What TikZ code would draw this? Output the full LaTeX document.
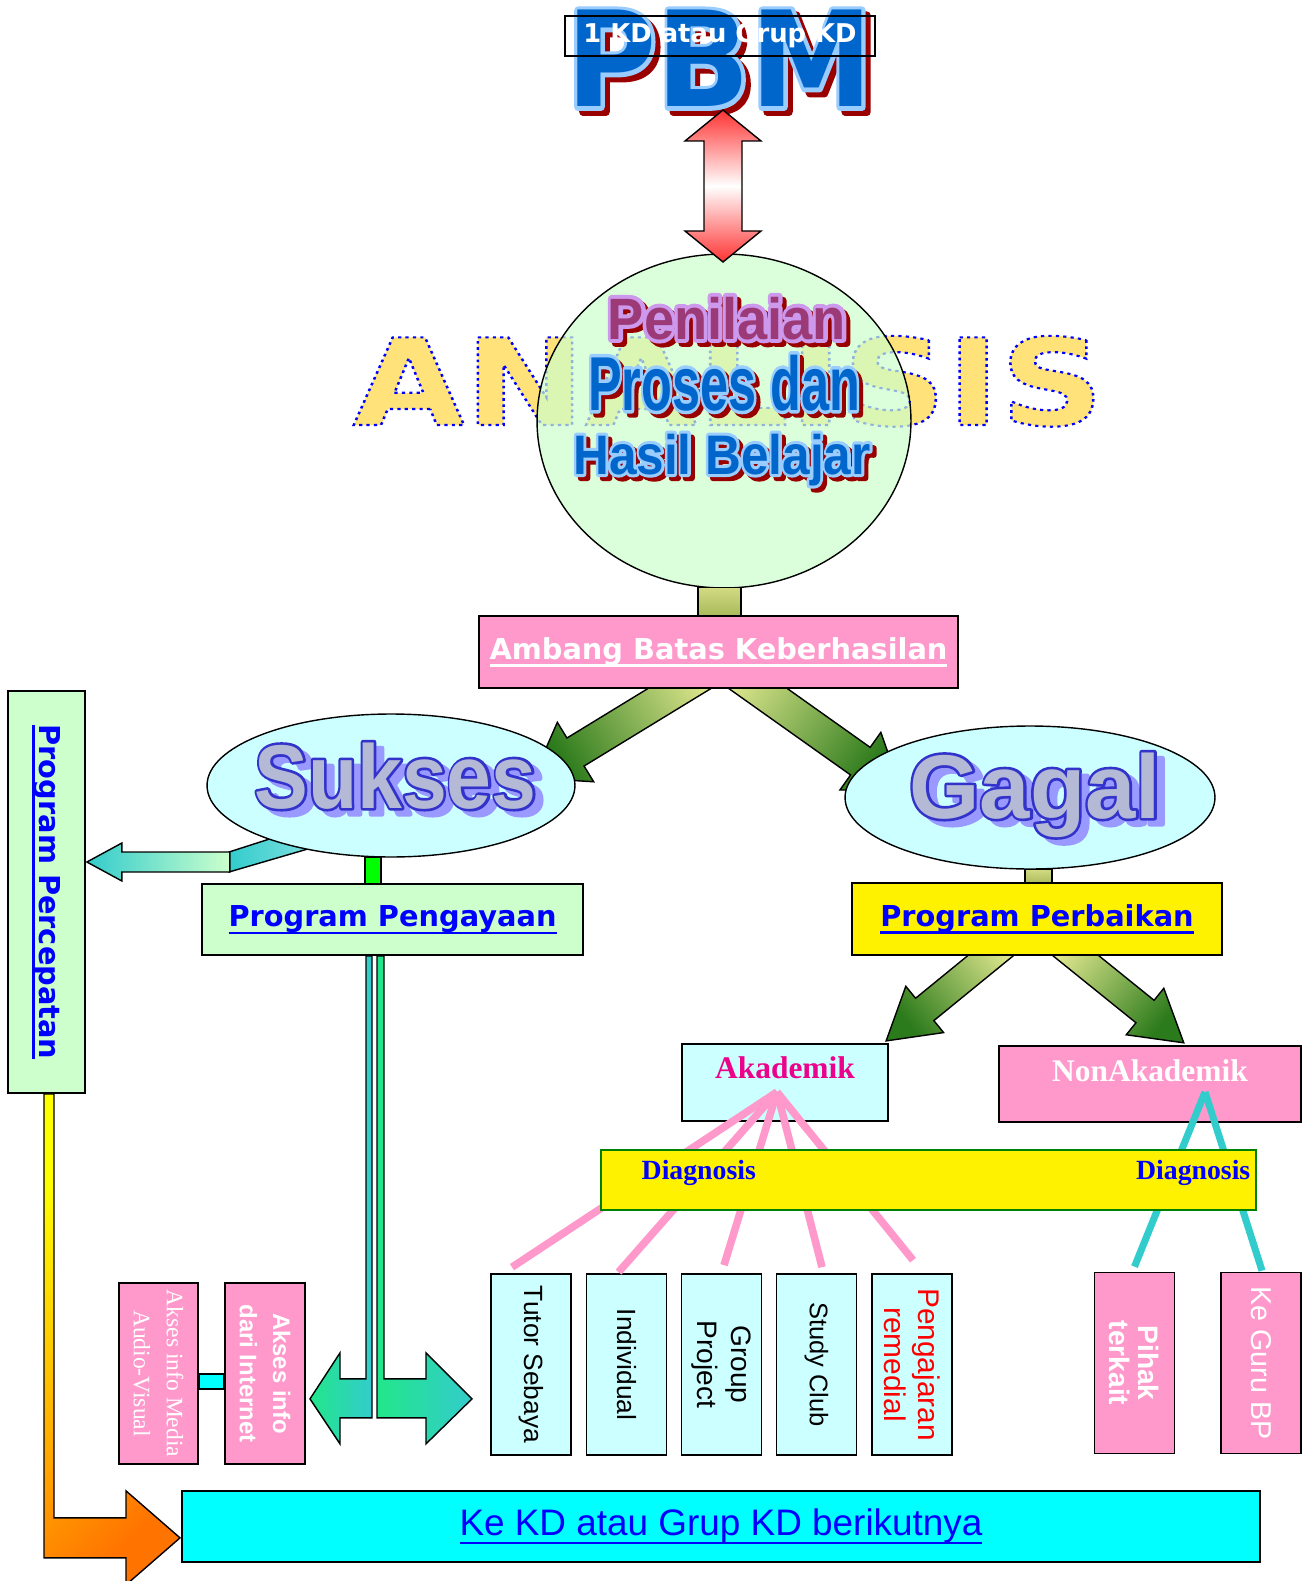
\documentclass[tikz,border=0pt]{standalone}
\usepackage{fontspec}
\setmainfont{Liberation Sans}
\newfontfamily\verd{DejaVu Sans}
\newfontfamily\tms{Liberation Serif}
\usetikzlibrary{calc,shapes.geometric}

\definecolor{pinkbox}{HTML}{FF99CC}
\definecolor{mint}{HTML}{CCFFCC}
\definecolor{ice}{HTML}{CCFFFF}
\definecolor{aqua}{HTML}{00FFFF}
\definecolor{linkblue}{HTML}{0000FF}
\definecolor{pbmblue}{HTML}{0066CC}
\definecolor{skyline}{HTML}{99CCFF}
\definecolor{shadowred}{HTML}{990000}
\definecolor{plum}{HTML}{9C3A78}
\definecolor{lavender}{HTML}{CC99EE}
\definecolor{sandy}{HTML}{FFE27A}
\definecolor{slate}{HTML}{B4BAD6}
\definecolor{lilac}{HTML}{9999FF}
\definecolor{inkblue}{HTML}{3333CC}
\definecolor{oliveA}{HTML}{D2DA82}
\definecolor{oliveB}{HTML}{A6B858}
\definecolor{paleyel}{HTML}{F2F29A}
\definecolor{leaf}{HTML}{2B7A1B}
\definecolor{aquateal}{HTML}{33CCCC}
\definecolor{springgreen}{HTML}{22E68A}

\newcommand\fs[2]{\fontsize{#1}{#2}\selectfont}
% underlined link text
\newcommand\ul[2][-4.3pt]{\setbox0\hbox{#2}\leavevmode\rlap{\rule[#1]{\wd0}{1.3pt}}\box0}
% thickened text (fill + stroke): stroke colour (rgb), stroke width, text
\newcommand\fat[3]{\special{pdf:literal #1 RG #2 w 1 j 2 Tr}#3\special{pdf:literal 0 Tr}}
\newcommand\dotl[3]{\special{pdf:literal #1 RG #2 w [1.5 2] 0 d 2 Tr}#3\special{pdf:literal 0 Tr [] 0 d}}

% fat arrow from #1 to #2: shaft half, head half, head length (px), style
\newcommand\blockarrow[6]{%
  \path let \p1=#1, \p2=#2 in \pgfextra{%
    \pgfmathsetmacro\baang{atan2(\y2-\y1,\x2-\x1)}%
    \pgfmathsetmacro\balen{veclen(\x2-\x1,\y2-\y1)}%
    \xdef\baang{\baang}\xdef\balen{\balen}};
  \pgfmathsetmacro\bashade{\baang+90}%
  \pgfmathsetmacro\bas{#3*0.5669}%
  \pgfmathsetmacro\bah{#4*0.5669}%
  \pgfmathsetmacro\babase{\balen-#5*0.5669}%
  \shade[#6, shading angle=\bashade, shift={#1}, rotate=\baang]
    (0pt,\bas pt) -- (\babase pt,\bas pt) -- (\babase pt,\bah pt) -- (\balen pt,0pt)
    -- (\babase pt,-\bah pt) -- (\babase pt,-\bas pt) -- (0pt,-\bas pt) -- cycle;
}

\begin{document}
\begin{tikzpicture}[x=0.02cm, y=-0.02cm,
  box/.style={draw, line width=1pt, inner sep=0pt, align=center},
  vbox/.style={box, rotate=-90, minimum width=3.62cm, minimum height=1.6cm, font=\fs{15}{19.3}},
  art/.style={inner sep=0pt, anchor=base},
  stem/.style={draw, line width=0.8pt},
  blob/.style={ellipse, draw, line width=0.8pt},
  leafarrow/.style={draw, line width=0.8pt, top color=paleyel, bottom color=leaf},
  fan/.style={draw=pinkbox, line width=4.3pt},
  fanteal/.style={draw=aquateal, line width=4pt}]

\path[use as bounding box, fill=white] (0,0) rectangle (1309,1581);

% ANALISIS and the ellipse over it
\node[art, text=sandy, xscale=1.2, font=\verd\bfseries\fs{68.4}{68.4}] (analisis) at (728.5,425) {\dotl{0 0 1}{1.2}{ANALISIS}};
\node[blob, fill=mint, fill opacity=.7, minimum width=7.48cm, minimum height=6.68cm] (penil) at (724,421) {};

\node[art, text=shadowred, xscale=.93, font=\bfseries\fs{33.2}{33.2}] (penil-s1) at (731,343) {\fat{0.6 0 0}{4.5}{Penilaian}};
\node[art, text=lavender, xscale=.93, font=\bfseries\fs{33.2}{33.2}] (penil-o1) at (727,339) {\fat{0.8 0.6 0.93}{4.5}{Penilaian}};
\node[art, text=plum, xscale=.93, font=\bfseries\fs{33.2}{33.2}] (penil-t1) at (727,339) {Penilaian};
\node[art, text=shadowred, xscale=.66, font=\bfseries\fs{43.5}{43.5}] (penil-s2) at (728,414) {\fat{0.6 0 0}{4}{Proses dan}};
\node[art, text=skyline, xscale=.66, font=\bfseries\fs{43.5}{43.5}] (penil-o2) at (724,410) {\fat{0.6 0.8 1}{4}{Proses dan}};
\node[art, text=pbmblue, xscale=.66, font=\bfseries\fs{43.5}{43.5}] (penil-t2) at (724,410) {Proses dan};
\node[art, text=shadowred, xscale=.89, font=\bfseries\fs{31.7}{31.7}] (penil-s3) at (726,478) {\fat{0.6 0 0}{3.5}{Hasil Belajar}};
\node[art, text=skyline, xscale=.89, font=\bfseries\fs{31.7}{31.7}] (penil-o3) at (722,474) {\fat{0.6 0.8 1}{3.5}{Hasil Belajar}};
\node[art, text=pbmblue, xscale=.89, font=\bfseries\fs{31.7}{31.7}] (penil-t3) at (722,474) {Hasil Belajar};

% PBM
\node[art, text=shadowred, xscale=.93, font=\verd\bfseries\fs{75.4}{75.4}] (pbm-s) at (725,112) {\fat{0.6 0 0}{4.5}{PBM}};
\node[art, text=skyline, xscale=.93, font=\verd\bfseries\fs{75.4}{75.4}] (pbm-o) at (720,107) {\fat{0.6 0.8 1}{4.5}{PBM}};
\node[art, text=pbmblue, xscale=.93, font=\verd\bfseries\fs{75.4}{75.4}] (pbm) at (720,107) {PBM};
\node[box, minimum width=6.2cm, minimum height=0.8cm, text=white, font=\verd\bfseries\fs{14.7}{14.7}] (kd) at (720,36) {1 KD atau Grup KD};

\coordinate (pbmfoot) at (723,110);
\coordinate (penitop) at (723,262);
\shade[draw, line width=0.8pt, top color=red!80, bottom color=red!80, middle color=white]
  (pbmfoot) -- ++(38,31) -- ++(-19,0) -- ++(0,90) -- ++(19,0) -- (penitop)
  -- ++(-38,-31) -- ++(19,0) -- ++(0,-90) -- ++(-19,0) -- cycle;

\draw[stem, top color=oliveA, bottom color=oliveB] ($(penil.south)+(-26,-1)$) rectangle ($(penil.south)+(17,29)$);

% Ambang to Sukses / Gagal
\coordinate (ambl) at (731,657);
\coordinate (sukin) at (533,778);
\coordinate (ambr) at (708,653);
\coordinate (gagin) at (901,790);
\blockarrow{(ambl)}{(sukin)}{16.5}{35}{50}{leafarrow}
\blockarrow{(ambr)}{(gagin)}{17}{35.5}{50}{leafarrow}
\node[box, fill=pinkbox, minimum width=9.58cm, minimum height=1.44cm, text=white, font=\verd\bfseries\fs{16.4}{16.4}] (amb) at (718.5,652) {\ul{Ambang Batas Keberhasilan}};

% Program Percepatan and the arrow from Sukses
\node[box, rotate=-90, fill=mint, minimum width=8.04cm, minimum height=1.54cm, text=linkblue, font=\verd\bfseries\fs{16.4}{16.4}] (perc) at (46.5,892) {\ul{Program Percepatan}};
\shade[draw, line width=0.8pt, left color=aquateal, right color=aquateal!60!white] (229,852) -- (310,826) -- (318,846) -- (229,872) -- cycle;
\coordinate (perctip) at ($(perc.north)+(1,-30)$);
\shade[draw, line width=0.8pt, left color=aquateal, right color=mint]
  (perctip) -- ++(35,-19) -- ++(0,9) -- ++(108,0) -- ++(0,20) -- ++(-108,0) -- ++(0,9) -- cycle;

% Sukses / Gagal
\node[blob, fill=ice, minimum width=7.36cm, minimum height=2.86cm] (sukses) at (391,785.5) {};
\node[art, text=lilac, xscale=.89, font=\bfseries\fs{51.5}{51.5}] (sukses-s) at (403.5,814) {\fat{0.6 0.6 1}{3}{Sukses}};
\node[art, text=inkblue, xscale=.89, font=\bfseries\fs{51.5}{51.5}] (sukses-o) at (395.5,808) {\fat{0.2 0.2 0.8}{3}{Sukses}};
\node[art, text=slate, xscale=.89, font=\bfseries\fs{51.5}{51.5}] (sukses-t) at (395.5,808) {Sukses};
\node[blob, fill=ice, minimum width=7.4cm, minimum height=2.86cm] (gagal) at (1030,797.5) {};
\node[art, text=lilac, font=\bfseries\fs{51.5}{51.5}] (gagal-s) at (1043,824) {\fat{0.6 0.6 1}{3}{Gagal}};
\node[art, text=inkblue, font=\bfseries\fs{51.5}{51.5}] (gagal-o) at (1035,818) {\fat{0.2 0.2 0.8}{3}{Gagal}};
\node[art, text=slate, font=\bfseries\fs{51.5}{51.5}] (gagal-t) at (1035,818) {Gagal};

% Pengayaan
\draw[stem, fill=green] ($(sukses.south)+(-26,0)$) rectangle ($(sukses.south)+(-10,27)$);
\node[box, fill=mint, minimum width=7.62cm, minimum height=1.42cm, text=linkblue, font=\verd\bfseries\fs{16.4}{16.4}] (peng) at (392.5,919.5) {\ul{Program Pengayaan}};

% Perbaikan
\draw[stem, top color=oliveA, bottom color=oliveB] ($(gagal.south)+(-5,0)$) rectangle ($(gagal.south)+(22,15)$);
\coordinate (perbl) at (1022,930);
\coordinate (akin) at (886,1041);
\coordinate (perbr) at (1044,930);
\coordinate (nonin) at (1184,1043);
\blockarrow{(perbl)}{(akin)}{14.5}{30}{50}{leafarrow}
\blockarrow{(perbr)}{(nonin)}{14.5}{30}{50}{leafarrow}
\node[box, fill=yellow, minimum width=7.4cm, minimum height=1.44cm, text=linkblue, font=\verd\bfseries\fs{16.4}{16.4}] (perb) at (1037,919) {\ul{Program Perbaikan}};

\node[box, fill=ice, minimum width=4.12cm, minimum height=1.54cm, text=magenta, font=\tms\bfseries\fs{17.9}{17.9}, text height=10pt, text depth=15pt] (akad) at (785,1082.5) {Akademik};
\node[box, fill=pinkbox, minimum width=6.04cm, minimum height=1.52cm, text=white, font=\tms\bfseries\fs{17.9}{17.9}, text height=10pt, text depth=13.4pt] (nonak) at (1150,1084) {NonAkademik};

% remedial and non-academic follow-ups
\node[vbox, fill=ice] (tutor) at (531,1364.5) {Tutor Sebaya};
\node[vbox, fill=ice] (indiv) at (626.5,1364.5) {Individual};
\node[vbox, fill=ice, font=\fs{16}{19.3}] (group) at (721.5,1364.5) {Group\\Project};
\node[vbox, fill=ice, font=\fs{14.5}{19.3}] (study) at (816.5,1364.5) {Study Club};
\node[vbox, fill=ice, text=red, font=\fs{17}{19.3}] (remed) at (912,1364.5) {Pengajaran\\remedial};
\node[vbox, fill=pinkbox, text=white, font=\bfseries\fs{16}{16.5}] (pihak) at (1134.5,1363) {Pihak\\terkait};
\node[vbox, fill=pinkbox, text=white, font=\fs{16.3}{19.3}] (kebp) at (1261,1363) {Ke Guru BP};

\coordinate (akapex) at (777,1092);
\coordinate (nonapex) at (1205,1092);
\draw[fan] (akapex) -- ($(tutor.west)+(-19,-6)$);
\draw[fan] (akapex) -- ($(indiv.west)+(-8,-1)$);
\draw[fan] (akapex) -- ($(group.west)+(2.5,-8)$);
\draw[fan] (akapex) -- ($(study.west)+(5.5,-6)$);
\draw[fan] (akapex) -- ($(remed.west)+(1,-13)$);
\draw[fanteal] (nonapex) -- ($(pihak.west)+(0,-5)$);
\draw[fanteal] (nonapex) -- ($(kebp.west)+(1,-1)$);

\node[box, line width=0.8pt, draw=green!50!black, fill=yellow, minimum width=13.1cm, minimum height=1.2cm] (diag) at (928.5,1180) {};
\node[art, anchor=base west, text=linkblue, font=\tms\bfseries\fs{15.8}{15.8}] (diagl) at ($(diag.west)+(41,-1)$) {Diagnosis};
\node[art, anchor=base east, text=linkblue, font=\tms\bfseries\fs{15.8}{15.8}] (diagr) at ($(diag.east)+(-6,-1)$) {Diagnosis};

% enrichment
\node[vbox, fill=pinkbox, text=white, minimum height=1.58cm, font=\tms\fs{13.4}{18.7}] (aksa) at (158.5,1373.5) {Akses info Media\\Audio-Visual};
\node[vbox, fill=pinkbox, text=white, font=\bfseries\fs{13.6}{19}] (aksb) at (265,1373.5) {Akses info\\dari Internet};
\draw[stem, fill=aqua] ($(aksa.north)+(0,0.5)$) rectangle ($(aksb.south)+(0,15.5)$);
\shade[draw, line width=0.8pt, left color=springgreen, right color=aquateal]
  ($(peng.south)+(-26.5,0)$) -- ++(6,0) -- ++(0,462) -- ++(-32,0) -- ++(0,26) -- ++(-30,-45)
  -- ++(30,-46) -- ++(0,26) -- ++(26,0) -- cycle;
\shade[draw, line width=0.8pt, left color=springgreen, right color=aquateal]
  ($(peng.south)+(-15.5,0)$) -- ++(7,0) -- ++(0,423) -- ++(42,0) -- ++(0,-26) -- ++(46,46)
  -- ++(-46,45) -- ++(0,-26) -- ++(-49,0) -- cycle;

% next KD
\shade[draw, line width=0.8pt, top color=yellow, bottom color=orange!90!red, shading angle=45]
  ($(perc.east)+(-2.5,0)$) -- ++(10,0) -- ++(0,424) -- ++(72,0) -- ++(0,-27) -- ++(54,47)
  -- ++(-54,47) -- ++(0,-27) -- ++(-82,0) -- cycle;
\node[box, fill=aqua, minimum width=21.56cm, minimum height=1.42cm, text=linkblue, font=\fs{21}{21}] (kekd) at (721,1526.5) {\ul[-5pt]{Ke KD atau Grup KD berikutnya}};
\end{tikzpicture}
\end{document}
